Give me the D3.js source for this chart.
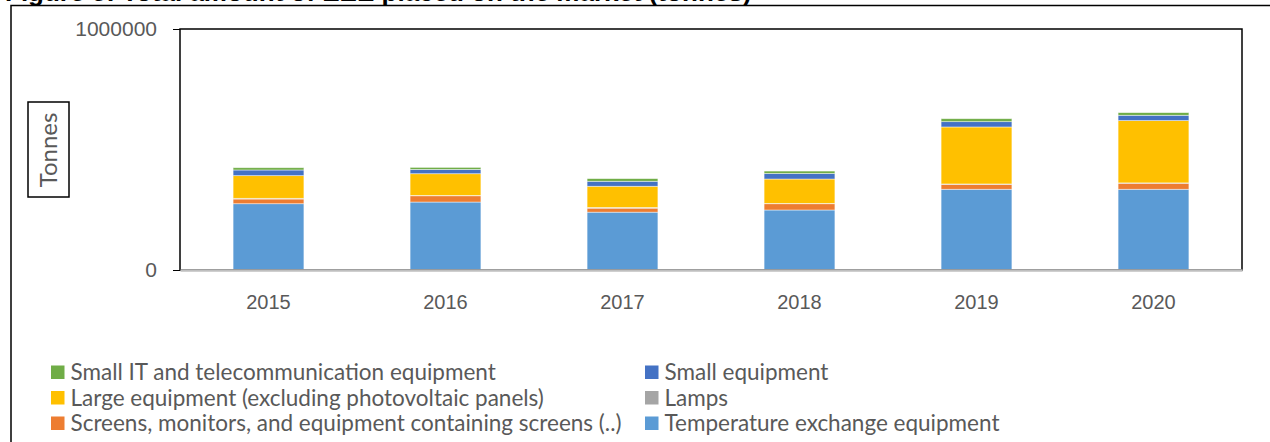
<!DOCTYPE html>
<html>
<head>
<meta charset="utf-8">
<script src="https://cdn.jsdelivr.net/npm/d3@7"></script>
<style>
  body { margin: 0; background: #fff; }
  svg { display: block; font-family: Lato, "Open Sans", sans-serif; }
</style>
</head>
<body>
<svg id="chart" width="1270" height="442"></svg>
<script>
// data (tonnes)
const years = ["2015", "2016", "2017", "2018", "2019", "2020"]
const temperature = [275000, 282000, 240000, 249000, 335000, 335000]
const screens = [19500, 26000, 16500, 26000, 20500, 25000]
const lamps = [3000, 1500, 3000, 1500, 1500, 1500]
const large = [94000, 90000, 88000, 101000, 236500, 258500]
const small = [23500, 18000, 20700, 23000, 22000, 22000]
const smallIT = [9500, 8300, 11000, 10000, 12400, 11000]
const yTicks = [0, 1000000]

const series = [
  { key: "temperature", name: "Temperature exchange equipment", color: "#5B9BD5", values: temperature },
  { key: "screens", name: "Screens, monitors, and equipment containing screens (..)", color: "#ED7D31", values: screens },
  { key: "lamps", name: "Lamps", color: "#A5A5A5", values: lamps },
  { key: "large", name: "Large equipment (excluding photovoltaic panels)", color: "#FFC000", values: large },
  { key: "small", name: "Small equipment", color: "#4472C4", values: small },
  { key: "smallIT", name: "Small IT and telecommunication equipment", color: "#70AD47", values: smallIT }
]

const table = years.map((y, i) => {
  const row = { year: y }
  series.forEach(s => row[s.key] = s.values[i])
  return row
})

const plot = { left: 180, top: 29, right: 1242, bottom: 270 }
const textColor = "#595959"

const svg = d3.select("#chart")

// outer frame (cut by the picture edges) and title, only its lower edge shows
svg.append("rect")
  .attr("x", 11).attr("y", 5.5)
  .attr("width", 1400).attr("height", 600)
  .attr("fill", "none").attr("stroke", "#000").attr("stroke-width", 1.5)

svg.append("text")
  .text("Figure 5: Total amount of EEE placed on the market (tonnes)")
  .attr("x", 5).attr("y", 0.5)
  .attr("font-family", "Liberation Sans, Arial, sans-serif")
  .attr("font-weight", "bold")
  .attr("font-size", "26px")
  .attr("fill", "#000")

// scales
const x = d3.scaleBand()
  .domain(years)
  .range([plot.left, plot.right])
  .paddingInner(0.6)
  .paddingOuter(0.3)

const y = d3.scaleLinear()
  .domain([0, 1000000])
  .range([plot.bottom, plot.top])

// stacked bars
const stack = d3.stack().keys(series.map(s => s.key))(table)

svg.append("g")
  .selectAll("g")
  .data(stack)
  .join("g")
  .attr("fill", (d, i) => series[i].color)
  .selectAll("rect")
  .data(d => d)
  .join("rect")
  .attr("x", d => x(d.data.year))
  .attr("y", d => y(d[1]))
  .attr("width", x.bandwidth())
  .attr("height", d => y(d[0]) - y(d[1]))
  .attr("stroke", "#fff")
  .attr("stroke-opacity", 0.6)
  .attr("stroke-width", 0.75)

// plot border
svg.append("rect")
  .attr("x", plot.left).attr("y", plot.top)
  .attr("width", plot.right - plot.left)
  .attr("height", plot.bottom - plot.top)
  .attr("fill", "none").attr("stroke", "#000").attr("stroke-width", 1.5)

// x axis
const xAxis = d3.axisBottom(x).tickSize(0).tickPadding(25)
const gx = svg.append("g")
  .attr("transform", `translate(0, ${plot.bottom})`)
  .call(xAxis)
gx.select(".domain").attr("stroke", "#BFBFBF").attr("stroke-width", 2.5)
gx.selectAll("text").attr("fill", textColor).attr("font-size", "20px").attr("font-family", null)

// y axis
const yAxis = d3.axisLeft(y)
  .tickValues(yTicks)
  .tickSize(7)
  .tickPadding(16)
  .tickFormat(d3.format("d"))
const gy = svg.append("g")
  .attr("transform", `translate(${plot.left}, 0)`)
  .call(yAxis)
gy.select(".domain").remove()
gy.selectAll(".tick line").attr("stroke", "#000")
gy.selectAll("text").attr("fill", textColor).attr("font-size", "21px").attr("font-family", null)

// axis title in a box
svg.append("rect")
  .attr("x", 28).attr("y", 102)
  .attr("width", 41).attr("height", 95)
  .attr("fill", "none").attr("stroke", "#000").attr("stroke-width", 1.5)

svg.append("text")
  .text("Tonnes")
  .attr("transform", "translate(56.5, 150) rotate(-90)")
  .attr("text-anchor", "middle")
  .attr("fill", textColor)
  .attr("font-size", "24px")

// legend, two columns, reversed order like the source
const legendOrder = series.slice().reverse()
const legend = svg.append("g")
  .selectAll("g")
  .data(legendOrder)
  .join("g")
  .attr("transform", (d, i) => `translate(${i % 2 ? 645 : 51}, ${365.5 + Math.floor(i / 2) * 25.5})`)

legend.append("rect")
  .attr("width", 13.5).attr("height", 13.5)
  .attr("fill", d => d.color)

legend.append("text")
  .text(d => d.name)
  .attr("x", 19.5)
  .attr("y", 6.75)
  .attr("dy", "0.36em")
  .attr("fill", textColor)
  .attr("font-size", "22.5px")
</script>
</body>
</html>
